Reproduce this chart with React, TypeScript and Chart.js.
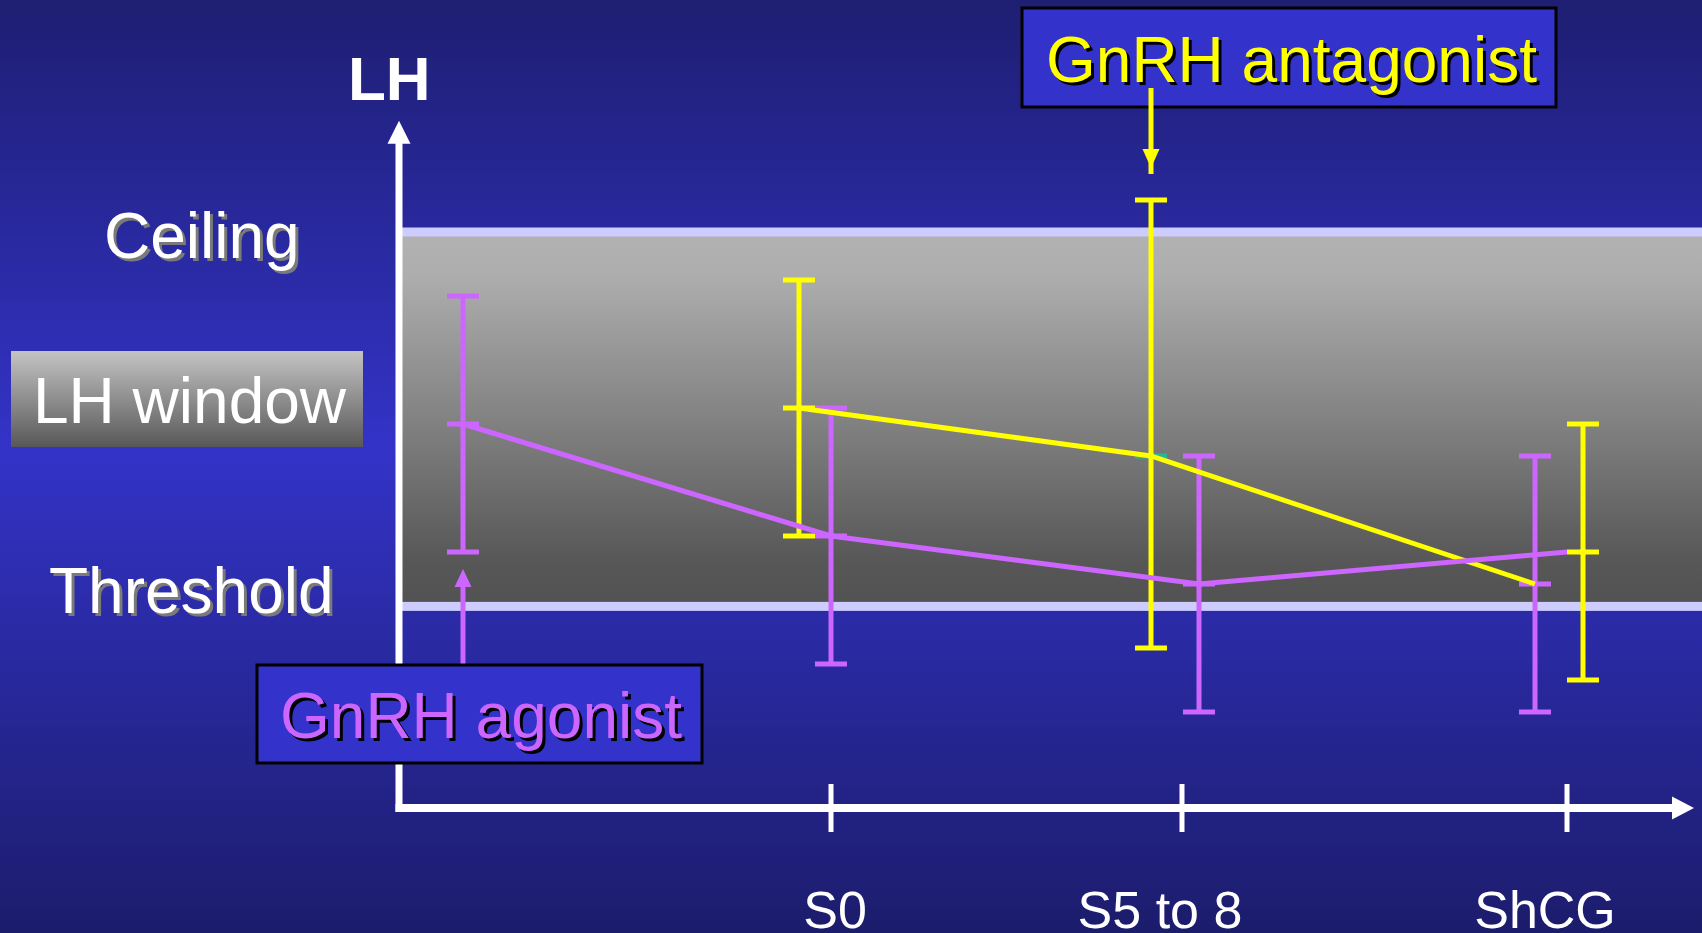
import React, { useEffect, useRef } from "react";
import { Chart, registerables } from "chart.js";

Chart.register(...registerables);

// ---- data (x: time position, y: LH level) ----
const purpleBarX = [0.64, 4.32, 8.0, 11.36];
const purpleMean = [4.8, 3.4, 2.8, 2.8];
const purpleUpper = [6.4, 5.0, 4.4, 4.4];
const purpleLower = [3.2, 1.8, 1.2, 1.2];

const yellowBarX = [4.0, 7.52, 11.84];
const yellowMean = [5.0, 4.4, 3.2];
const yellowUpper = [6.6, 7.6, 4.8];
const yellowLower = [3.4, 2.0, 1.6];

const purpleLineX = [0.64, 4.32, 8.0, 11.68];
const purpleLineY = [4.8, 3.4, 2.8, 3.2];
const yellowLineX = [4.0, 7.52, 11.36];
const yellowLineY = [5.0, 4.4, 2.8];

const tickX = [4.32, 7.83, 11.68];
const tickLabels = ["S0", "S5 to 8", "ShCG"];
const tickLabelX = [4.36, 7.61, 11.46];

const ceilingLevel = 7.2;
const thresholdLevel = 2.52;
const yAxisTop = 8.59;
const xAxisEnd = 12.95;

const X_MAX = 13.03;
const Y_MAX = 10.1;

const PURPLE = "#cc66ff";
const YELLOW = "#ffff00";
const FONT = "'Liberation Sans', Arial, sans-serif";

function shadowText(ctx: CanvasRenderingContext2D, text: string, x: number, y: number, color: string, shadow: string | null, dx = 3, dy = 3) {
  if (shadow) {
    ctx.fillStyle = shadow;
    ctx.fillText(text, x + dx, y + dy);
  }
  ctx.fillStyle = color;
  ctx.fillText(text, x, y);
}

const slidePlugin = {
  id: "slide",
  beforeDraw(chart: any) {
    const ctx: CanvasRenderingContext2D = chart.ctx;
    const W = chart.width, H = chart.height;
    ctx.save();
    const g = ctx.createLinearGradient(0, 0, 0, H);
    g.addColorStop(0, "#1e1e72");
    g.addColorStop(0.48, "#3333c8");
    g.addColorStop(1, "#1c1c6c");
    ctx.fillStyle = g;
    ctx.fillRect(0, 0, W, H);
    ctx.restore();
  },
  beforeDatasetsDraw(chart: any) {
    const ctx: CanvasRenderingContext2D = chart.ctx;
    const xs = chart.scales.x, ys = chart.scales.y;
    const W = chart.width;
    ctx.save();
    // LH window band
    const x0 = xs.getPixelForValue(0);
    const yc = ys.getPixelForValue(ceilingLevel);
    const yt = ys.getPixelForValue(thresholdLevel);
    const bg = ctx.createLinearGradient(0, yc, 0, yt);
    bg.addColorStop(0, "#b2b2b2");
    bg.addColorStop(0.12, "#adadad");
    bg.addColorStop(0.88, "#575757");
    bg.addColorStop(1, "#525252");
    ctx.fillStyle = bg;
    ctx.fillRect(x0, yc, W - x0, yt - yc);
    ctx.fillStyle = "#ccccff";
    ctx.fillRect(x0, yc - 4.5, W - x0, 9);
    ctx.fillRect(x0, yt - 4.5, W - x0, 9);

    // axes
    const y0 = ys.getPixelForValue(0);
    const yTop = ys.getPixelForValue(yAxisTop);
    const xEnd = xs.getPixelForValue(xAxisEnd);
    ctx.fillStyle = "#ffffff";
    ctx.fillRect(x0 - 3.5, yTop + 20, 7, y0 - yTop - 16);
    ctx.beginPath();
    ctx.moveTo(x0, yTop);
    ctx.lineTo(x0 + 11.5, yTop + 23);
    ctx.lineTo(x0 - 11.5, yTop + 23);
    ctx.closePath();
    ctx.fill();
    ctx.fillRect(x0 - 3.5, y0 - 4, xEnd - x0 - 18, 8);
    ctx.beginPath();
    ctx.moveTo(xEnd, y0);
    ctx.lineTo(xEnd - 22, y0 - 11.5);
    ctx.lineTo(xEnd - 22, y0 + 11.5);
    ctx.closePath();
    ctx.fill();
    tickX.forEach((v) => {
      const px = xs.getPixelForValue(v);
      ctx.fillRect(px - 2.5, y0 - 24, 5, 48);
    });

    // error bars
    const drawBar = (xv: number, lo: number, hi: number, mean: number, color: string, meanColor: string) => {
      const px = xs.getPixelForValue(xv);
      const pl = ys.getPixelForValue(lo);
      const ph = ys.getPixelForValue(hi);
      const pm = ys.getPixelForValue(mean);
      ctx.fillStyle = color;
      ctx.fillRect(px - 2.5, ph, 5, pl - ph);
      ctx.fillRect(px - 16, ph - 2.5, 32, 5);
      ctx.fillRect(px - 16, pl - 2.5, 32, 5);
      ctx.fillStyle = meanColor;
      ctx.fillRect(px - 16, pm - 2.5, 32, 5);
      ctx.fillStyle = color;
      ctx.fillRect(px - 2.5, pm - 3, 5, 6);
    };
    purpleBarX.forEach((xv, i) => drawBar(xv, purpleLower[i], purpleUpper[i], purpleMean[i], PURPLE, PURPLE));
    yellowBarX.forEach((xv, i) => drawBar(xv, yellowLower[i], yellowUpper[i], yellowMean[i], YELLOW, i === 1 ? "#20b89c" : YELLOW));
    ctx.restore();
  },
  afterDatasetsDraw(chart: any) {
    const ctx: CanvasRenderingContext2D = chart.ctx;
    const xs = chart.scales.x, ys = chart.scales.y;
    ctx.save();
    ctx.textBaseline = "alphabetic";
    ctx.textAlign = "left";

    // LH title
    ctx.font = `bold 62px ${FONT}`;
    shadowText(ctx, "LH", 348, 100, "#ffffff", null);

    ctx.font = `64px ${FONT}`;
    shadowText(ctx, "Ceiling", 104, 258, "#ffffff", "#7a7a7a");
    shadowText(ctx, "Threshold", 49, 613, "#ffffff", "#7a7a7a");

    // LH window legend box
    const lg = ctx.createLinearGradient(0, 351, 0, 447);
    lg.addColorStop(0, "#c4c4c4");
    lg.addColorStop(1, "#585858");
    ctx.fillStyle = lg;
    ctx.fillRect(11, 351, 352, 96);
    shadowText(ctx, "LH window", 33, 423, "#ffffff", null);

    // antagonist annotation
    const ax = xs.getPixelForValue(yellowBarX[1]);
    ctx.fillStyle = "#3333cc";
    ctx.fillRect(1022, 8, 534, 99);
    ctx.strokeStyle = "#000000";
    ctx.lineWidth = 3;
    ctx.strokeRect(1022, 8, 534, 99);
    shadowText(ctx, "GnRH antagonist", 1046, 82, YELLOW, "#000000");
    ctx.fillStyle = YELLOW;
    ctx.fillRect(ax - 2.5, 88, 5, 86);
    ctx.beginPath();
    ctx.moveTo(ax, 168);
    ctx.lineTo(ax - 8.5, 149);
    ctx.lineTo(ax + 8.5, 149);
    ctx.closePath();
    ctx.fill();

    // agonist annotation
    const gx = xs.getPixelForValue(purpleBarX[0]);
    ctx.fillStyle = PURPLE;
    ctx.fillRect(gx - 2.5, 584, 5, 82);
    ctx.beginPath();
    ctx.moveTo(gx, 569);
    ctx.lineTo(gx - 8.5, 587);
    ctx.lineTo(gx + 8.5, 587);
    ctx.closePath();
    ctx.fill();
    ctx.fillStyle = "#3333cc";
    ctx.fillRect(257, 665, 445, 98);
    ctx.strokeStyle = "#000000";
    ctx.lineWidth = 3;
    ctx.strokeRect(257, 665, 445, 98);
    shadowText(ctx, "GnRH agonist", 280, 738, PURPLE, "#000000");

    // x tick labels
    ctx.font = `52px ${FONT}`;
    ctx.textAlign = "center";
    const yl = ys.getPixelForValue(-1.5);
    tickLabels.forEach((t, i) => {
      shadowText(ctx, t, xs.getPixelForValue(tickLabelX[i]), yl, "#ffffff", null);
    });
    ctx.restore();
  },
};

export default function App() {
  const ref = useRef<HTMLCanvasElement | null>(null);
  useEffect(() => {
    if (!ref.current) return;
    const chart = new Chart(ref.current, {
      type: "scatter",
      data: {
        datasets: [
          {
            label: "GnRH agonist",
            data: purpleLineX.map((x, i) => ({ x, y: purpleLineY[i] })),
            showLine: true,
            borderColor: PURPLE,
            borderWidth: 5,
            pointRadius: 0,
            tension: 0,
            clip: false as any,
          },
          {
            label: "GnRH antagonist",
            data: yellowLineX.map((x, i) => ({ x, y: yellowLineY[i] })),
            showLine: true,
            borderColor: YELLOW,
            borderWidth: 5,
            pointRadius: 0,
            tension: 0,
            clip: false as any,
          },
        ],
      },
      options: {
        animation: false,
        responsive: false,
        devicePixelRatio: 1,
        layout: { padding: { left: 399, right: 0, top: 0, bottom: 125 } },
        scales: {
          x: { type: "linear", min: 0, max: X_MAX, display: false },
          y: { type: "linear", min: 0, max: Y_MAX, display: false },
        },
        plugins: { legend: { display: false }, tooltip: { enabled: false } },
        events: [],
      },
      plugins: [slidePlugin],
    });
    return () => chart.destroy();
  }, []);
  return (
    <div style={{ position: "fixed", left: 0, top: 0, width: 1702, height: 933, overflow: "hidden" }}>
      <canvas ref={ref} width={1702} height={933} style={{ display: "block", width: 1702, height: 933 }} />
    </div>
  );
}
